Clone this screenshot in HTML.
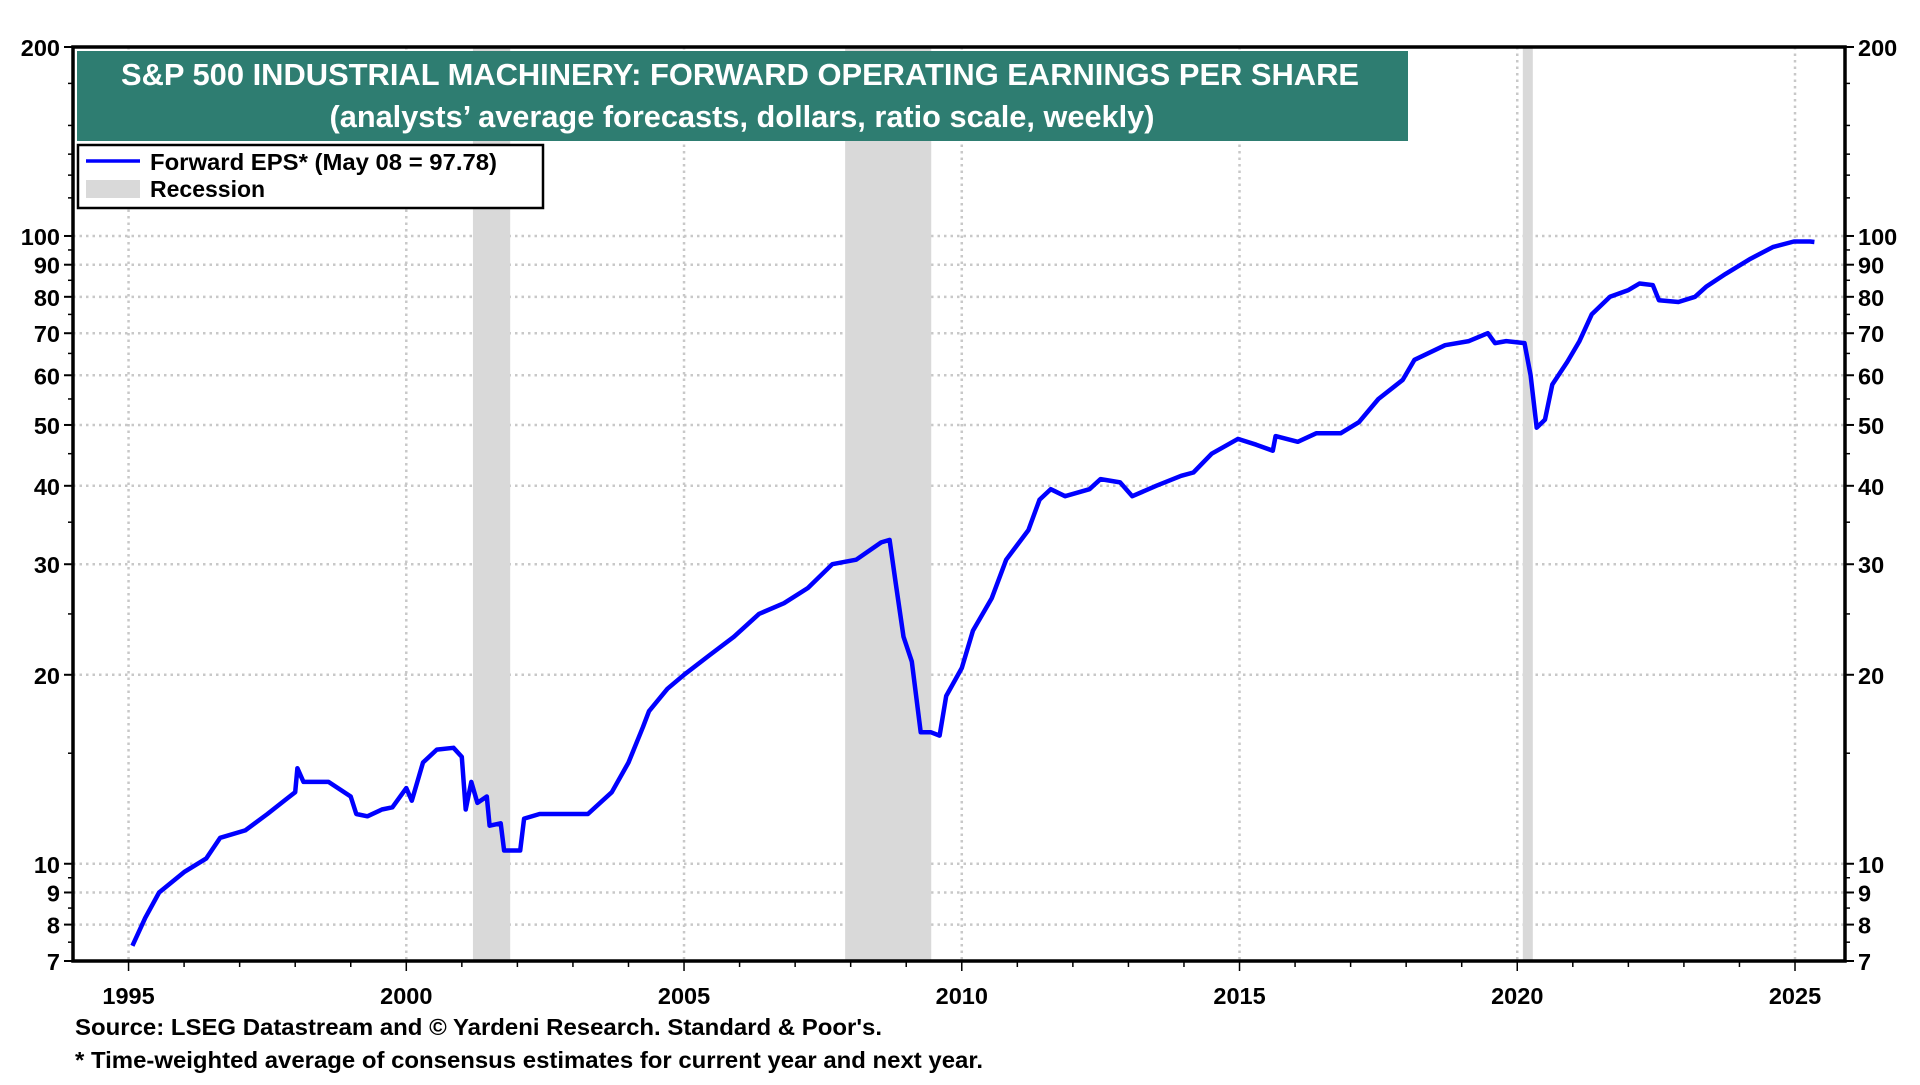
<!DOCTYPE html>
<html><head><meta charset="utf-8"><style>
body{margin:0;background:#fff;font-family:"Liberation Sans",Arial,sans-serif;}
svg text{font-family:"Liberation Sans",Arial,sans-serif;font-weight:bold;}
</style></head><body>
<svg id="chart" width="1920" height="1080" viewBox="0 0 1920 1080" xmlns="http://www.w3.org/2000/svg">
<g id="grid"></g>
<g id="rec"></g>
<g id="series"></g>
<rect x="73" y="47" width="1772" height="914" fill="none" stroke="#000" stroke-width="3.5"/>
<g id="axes"></g>
<g>
<rect x="77" y="51" width="1331" height="90" fill="#2e7d71"/>
<text x="740" y="85" font-size="30.5" fill="#fff" text-anchor="middle" textLength="1238" lengthAdjust="spacingAndGlyphs">S&amp;P 500 INDUSTRIAL MACHINERY: FORWARD OPERATING EARNINGS PER SHARE</text>
<text x="742" y="127" font-size="30.5" fill="#fff" text-anchor="middle" textLength="825" lengthAdjust="spacingAndGlyphs">(analysts’ average forecasts, dollars, ratio scale, weekly)</text>
</g>
<g>
<rect x="78" y="145" width="465" height="63" fill="#fff" stroke="#000" stroke-width="2.5"/>
<line x1="86" y1="161" x2="140" y2="161" stroke="#0000ff" stroke-width="3.5"/>
<text x="150" y="170" font-size="23" textLength="347" lengthAdjust="spacingAndGlyphs">Forward EPS* (May 08 = 97.78)</text>
<rect x="86" y="180" width="54" height="18" fill="#d9d9d9"/>
<text x="150" y="197" font-size="23">Recession</text>
</g>
<text x="75" y="1035" font-size="23.5" textLength="807" lengthAdjust="spacingAndGlyphs">Source: LSEG Datastream and © Yardeni Research. Standard &amp; Poor's.</text>
<text x="75" y="1068" font-size="23.5" textLength="908" lengthAdjust="spacingAndGlyphs">* Time-weighted average of consensus estimates for current year and next year.</text>
</svg>
<script>
const years = [1995.07,1995.3,1995.55,1996.0,1996.4,1996.65,1997.1,1997.5,1997.85,1998.0,1998.04,1998.15,1998.6,1999.0,1999.1,1999.3,1999.56,1999.75,2000.0,2000.1,2000.3,2000.55,2000.85,2001.0,2001.07,2001.17,2001.28,2001.45,2001.5,2001.7,2001.76,2002.05,2002.12,2002.4,2002.8,2003.27,2003.7,2004.0,2004.26,2004.37,2004.7,2005.0,2005.46,2005.9,2006.35,2006.8,2007.23,2007.67,2008.1,2008.55,2008.7,2008.81,2008.95,2009.1,2009.26,2009.44,2009.6,2009.72,2010.0,2010.2,2010.54,2010.8,2011.2,2011.4,2011.6,2011.86,2012.3,2012.5,2012.85,2013.07,2013.5,2013.95,2014.17,2014.5,2014.97,2015.3,2015.6,2015.65,2016.05,2016.38,2016.82,2017.15,2017.5,2017.94,2018.15,2018.7,2019.13,2019.47,2019.6,2019.8,2020.13,2020.24,2020.35,2020.5,2020.63,2020.9,2021.12,2021.34,2021.67,2022.0,2022.2,2022.44,2022.55,2022.9,2023.2,2023.4,2023.75,2024.2,2024.6,2024.98,2025.27,2025.35];
const eps = [7.4,8.2,9.0,9.7,10.2,11.0,11.3,12.0,12.7,13.0,14.2,13.5,13.5,12.8,12.0,11.9,12.2,12.3,13.2,12.6,14.5,15.2,15.3,14.8,12.2,13.5,12.5,12.8,11.5,11.6,10.5,10.5,11.8,12.0,12.0,12.0,13.0,14.5,16.5,17.5,19.0,20.0,21.5,23.0,25.0,26.0,27.5,30.0,30.5,32.5,32.8,28.0,23.0,21.0,16.2,16.2,16.0,18.5,20.5,23.5,26.5,30.5,34.0,38.0,39.5,38.5,39.5,41.0,40.5,38.5,40.0,41.5,42.0,45.0,47.5,46.5,45.5,48.0,47.0,48.5,48.5,50.5,55.0,59.0,63.5,67.0,68.0,70.0,67.5,68.0,67.5,60.0,49.5,51.0,58.0,63.0,68.0,75.0,80.0,82.0,84.0,83.5,79.0,78.5,80.0,83.0,87.0,92.0,96.0,98.0,98.0,97.8];
const recStart = [2001.2,2007.9,2020.1];
const recEnd = [2001.87,2009.45,2020.28];
const yTicks = [200,100,90,80,70,60,50,40,30,20,10,9,8,7];
const xTicks = [1995,2000,2005,2010,2015,2020,2025];

const L=73,R=1845,T=47,B=961;
const X0=1994.0,X1=2025.9,Ymax=200,Ymin=7;
const xs=y=>L+(y-X0)/(X1-X0)*(R-L);
const ys=v=>T+Math.log(Ymax/v)/Math.log(Ymax/Ymin)*(B-T);
const NS='http://www.w3.org/2000/svg';
function mk(tag,parent,attrs){const e=document.createElementNS(NS,tag);for(const k in attrs)e.setAttribute(k,attrs[k]);parent.appendChild(e);return e;}
const grid=document.getElementById('grid'),rec=document.getElementById('rec'),series=document.getElementById('series'),axes=document.getElementById('axes');
yTicks.forEach(v=>{
  const y=ys(v);
  if(v<200&&v>7){const g=mk('line',grid,{x1:L,x2:R,y1:y,y2:y,stroke:'#c8c8c8','stroke-width':2.5,'stroke-dasharray':'2.5 4'});
  
  }
  const t1=mk('text',axes,{x:L-13,y:y+9,'font-size':23.5,'text-anchor':'end'});t1.textContent=v;
  
  
  const t2=mk('text',axes,{x:R+13,y:y+9,'font-size':23.5,'text-anchor':'start'});t2.textContent=v;
  
  
  mk('line',axes,{x1:L-9,x2:L,y1:y,y2:y,stroke:'#000','stroke-width':2});
  mk('line',axes,{x1:R,x2:R+9,y1:y,y2:y,stroke:'#000','stroke-width':2});
});
[150,125,175,115,135].concat([95,85,75,65,55,45,35,25,15,9.5,8.5,7.5]).forEach(v=>{
  if(v>=200)return;const y=ys(v);
  mk('line',axes,{x1:L-5,x2:L,y1:y,y2:y,stroke:'#000','stroke-width':1.5});
  mk('line',axes,{x1:R,x2:R+5,y1:y,y2:y,stroke:'#000','stroke-width':1.5});
});
xTicks.forEach(yr=>{
  const x=xs(yr);
  const g=mk('line',grid,{x1:x,x2:x,y1:T,y2:B,stroke:'#c8c8c8','stroke-width':2.5,'stroke-dasharray':'2.5 4'});
  
  
  const t=mk('text',axes,{x:x,y:B+43,'font-size':23.5,'text-anchor':'middle'});t.textContent=yr;
  
  
});
for(let yr=1995;yr<=2025;yr++){const x=xs(yr);mk('line',axes,{x1:x,x2:x,y1:B,y2:B+(yr%5?6:10),stroke:'#000','stroke-width':1.5});}
recStart.forEach((s,i)=>{
  const r=mk('rect',rec,{x:xs(s),y:T,width:xs(recEnd[i])-xs(s),height:B-T,fill:'#d9d9d9'});
  
  
});
const d=years.map((yr,i)=>(i?'L':'M')+xs(yr).toFixed(1)+','+ys(eps[i]).toFixed(1)).join('');
const p=mk('path',series,{d:d,fill:'none',stroke:'#0000ff','stroke-width':4.5,'stroke-linejoin':'round'});


</script>
</body></html>
